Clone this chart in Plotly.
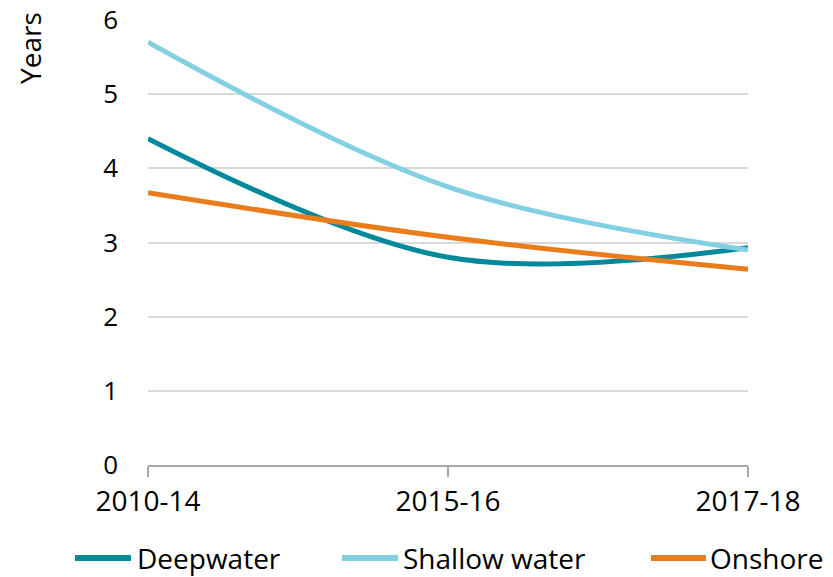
import plotly.graph_objects as go

periods = ["2010-14", "2015-16", "2017-18"]
deepwater = [4.4, 2.8, 2.93]
shallow_water = [5.7, 3.75, 2.9]
onshore = [3.67, 3.07, 2.64]

series = [("Deepwater", deepwater, "#00899B"),
          ("Shallow water", shallow_water, "#83D0E2"),
          ("Onshore", onshore, "#EA7D1B")]
FONT = "Open Sans, Segoe UI, sans-serif"
FS = 28

W, H = 833, 577
L, R, T, B = 148, 85, 20, 112
PW, PH = W - L - R, H - T - B

def px_x(px):  # window px -> paper
    return (px - L) / PW

def px_y(py):
    return (H - B - py) / PH

fig = go.Figure()
for name, vals, col in series:
    fig.add_trace(go.Scatter(
        x=periods, y=vals, name=name, mode="lines", showlegend=False,
        line=dict(color=col, width=5, shape="spline", smoothing=1.0),
    ))

# manual legend
legend_pos = [(75, 131, 135), (342, 398, 401), (651, 706, 708)]
shapes, annotations = [], []
ly = px_y(558)
for (name, _, col), (x0, x1, xt) in zip(series, legend_pos):
    shapes.append(dict(type="line", xref="paper", yref="paper",
                       x0=px_x(x0), x1=px_x(x1), y0=ly, y1=ly,
                       line=dict(color=col, width=6)))
    annotations.append(dict(text=name, xref="paper", yref="paper", x=px_x(xt), y=ly,
                            xanchor="left", yanchor="middle", showarrow=False,
                            font=dict(size=FS)))

annotations.append(dict(text="Years", xref="paper", yref="paper", x=px_x(30), y=px_y(10),
                        xanchor="center", yanchor="top", textangle=-90, showarrow=False,
                        font=dict(size=FS)))

fig.update_layout(
    width=W, height=H,
    margin=dict(l=L, r=R, t=T, b=B, autoexpand=False),
    paper_bgcolor="white", plot_bgcolor="white",
    font=dict(family=FONT, size=FS, color="#000000"),
    showlegend=False,
    xaxis=dict(type="category", range=[0, 2], showgrid=False, showline=True,
               linecolor="#A6A6A6", linewidth=2, ticks="outside", ticklen=10,
               tickcolor="#A6A6A6", tickwidth=2, tickfont=dict(size=FS)),
    yaxis=dict(range=[0, 6], dtick=1,
               showgrid=True, gridcolor="#D9D9D9", gridwidth=2,
               zeroline=False, showline=False, ticks="", ticklabelstandoff=29,
               tickfont=dict(size=26)),
    shapes=shapes,
    annotations=annotations,
)

fig.write_html("out.html", config={"displayModeBar": False},
               post_script="document.body.style.margin='0';")
